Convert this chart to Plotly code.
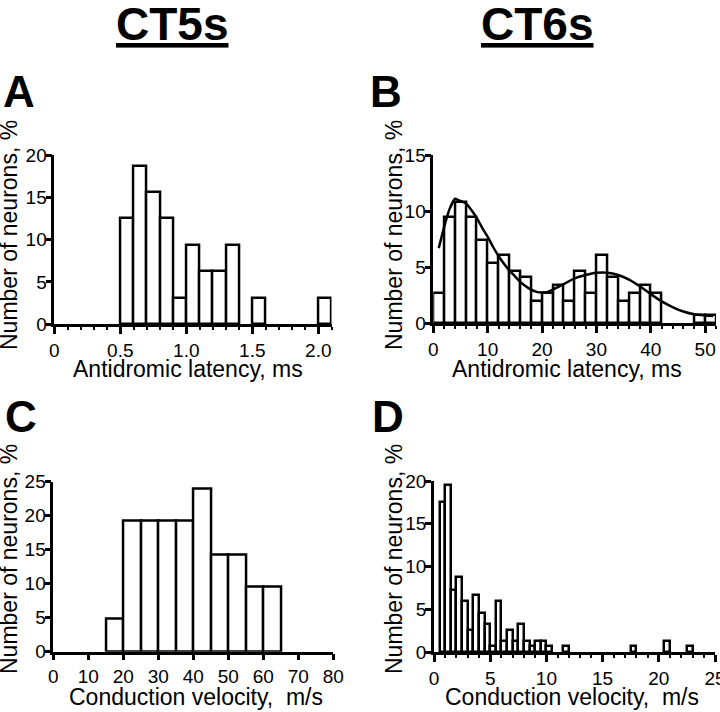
import plotly.graph_objects as go

W, H = 720, 712
FONT = 'Arial, "Liberation Sans", Helvetica, sans-serif'

# A - CT5s antidromic latency, 0.1 ms bins (% of neurons)
a_bin_start = [0.5, 0.6, 0.7, 0.8, 0.9, 1.0, 1.1, 1.2, 1.3, 1.5, 2.0]
a_pct = [12.5, 18.75, 15.6, 12.5, 3.1, 9.4, 6.25, 6.25, 9.4, 3.1, 3.1]
a_tickvals = [0, 0.5, 1.0, 1.5, 2.0]
a_ticktext = ["0", "0.5", "1.0", "1.5", "2.0"]

# B - CT6s antidromic latency, 2 ms bins, plus fitted curve
b_bin_start = [0, 2, 4, 6, 8, 10, 12, 14, 16, 18, 20, 22, 24, 26, 28, 30,
               32, 34, 36, 38, 40, 48, 50]
b_pct = [2.7, 9.5, 10.8, 9.5, 7.4, 5.4, 6.1, 4.7, 4.1, 2.0, 2.7, 3.4, 2.0,
         4.7, 2.7, 6.1, 4.1, 2.0, 2.7, 3.4, 2.7, 0.7, 0.7]
b_fit_x = [1, 2, 3, 4, 5, 6, 7, 8, 9, 10, 11, 12, 13, 14, 15, 16, 17, 18,
           19, 20, 21, 22, 24, 26, 28, 30, 32, 34, 36, 38, 40, 42, 44, 46,
           48, 50, 51.5]
b_fit_y = [6.7, 8.6, 10.2, 11.1, 10.9, 10.7, 10.1, 9.4, 8.5, 7.7, 6.8, 6.0,
           5.3, 4.7, 4.2, 3.7, 3.3, 3.0, 2.8, 2.75, 2.8, 3.0, 3.5, 4.0, 4.3,
           4.5, 4.5, 4.3, 3.9, 3.3, 2.6, 1.95, 1.45, 1.05, 0.8, 0.7, 0.65]

# C - CT5s conduction velocity, 5 m/s bins
c_bin_start = [15, 20, 25, 30, 35, 40, 45, 50, 55, 60]
c_pct = [4.8, 19.2, 19.2, 19.2, 19.2, 23.9, 14.3, 14.3, 9.6, 9.6]

# D - CT6s conduction velocity, 0.5 m/s bins
d_bin_start = [0.5, 1.0, 1.5, 2.0, 2.5, 3.0, 3.5, 4.0, 4.5, 5.0, 5.5, 6.0,
               6.5, 7.0, 7.5, 8.0, 8.5, 9.0, 9.5, 10.0, 11.5, 17.5, 20.5, 22.5]
d_pct = [17.5, 19.5, 7.3, 8.8, 6.0, 2.6, 6.7, 4.6, 3.3, 0.7, 6.0, 1.3,
         2.6, 1.3, 3.3, 1.3, 0.7, 1.3, 1.3, 0.7, 0.7, 0.7, 1.3, 0.7]


def px(x):
    return x / W


def py(y):
    return 1 - y / H


fig = go.Figure()


def add_hist(starts, pct, width, n):
    sfx = "" if n == 1 else str(n)
    fig.add_trace(go.Bar(
        x=starts, y=pct, width=width, offset=0,
        marker=dict(color="white", line=dict(color="black", width=2.5)),
        xaxis="x" + sfx, yaxis="y" + sfx,
        showlegend=False, hoverinfo="skip"
    ))


add_hist(a_bin_start, a_pct, 0.1, 1)
add_hist(b_bin_start, b_pct, 2, 2)
add_hist(c_bin_start, c_pct, 5, 3)
add_hist(d_bin_start, d_pct, 0.5, 4)

fig.add_trace(go.Scatter(
    x=b_fit_x, y=b_fit_y, mode="lines",
    line=dict(color="black", width=2.5, shape="spline", smoothing=0.4),
    xaxis="x2", yaxis="y2", showlegend=False, hoverinfo="skip"
))

base = dict(showline=True, linewidth=2.5, linecolor="black", ticks="outside",
            tickwidth=2.5, ticklen=6, tickcolor="black", showgrid=False,
            zeroline=False, automargin=False, ticklabeloverflow="allow",
            tickfont=dict(family=FONT, size=19, color="black"),
            fixedrange=True)
ybase = dict(base, dtick=5, ticklabelstandoff=-5)


def minor(dt):
    return dict(tick0=0, dtick=dt, ticks="outside", ticklen=3, tickwidth=2,
                tickcolor="black", showgrid=False)


fig.update_layout(
    width=W, height=H,
    margin=dict(l=0, r=0, t=0, b=0, autoexpand=False),
    paper_bgcolor="white", plot_bgcolor="white",
    bargap=0,
    xaxis=dict(base, domain=[px(54.3), px(331.5)], range=[0, 2.1], anchor="y",
               tickmode="array", tickvals=a_tickvals, ticktext=a_ticktext,
               ticklen=7, minor=minor(0.1)),
    yaxis=dict(ybase, domain=[py(324.3), py(155)], range=[0, 20], anchor="x"),
    xaxis2=dict(base, domain=[px(433.3), px(716)], range=[0, 52], anchor="y2",
                dtick=10, ticklen=7, minor=minor(2)),
    yaxis2=dict(ybase, domain=[py(323.3), py(155)], range=[0, 15], anchor="x2"),
    xaxis3=dict(base, domain=[px(53.3), px(333.3)], range=[0, 80], anchor="y3",
                dtick=10),
    yaxis3=dict(ybase, domain=[py(651.7), py(481.7)], range=[0, 25], anchor="x3"),
    xaxis4=dict(base, domain=[px(434), px(715)], range=[0, 25], anchor="y4",
                dtick=5, ticklen=7, minor=minor(1)),
    yaxis4=dict(ybase, domain=[py(652.3), py(481)], range=[0, 20], anchor="x4"),
)


def text(s, x, y, size, bold=False, angle=0, under=False):
    f = dict(family=FONT, size=size, color="black")
    if bold:
        f["weight"] = "bold"
    if under:
        f["lineposition"] = "under"
    fig.add_annotation(text=s, x=px(x), y=py(y), xref="paper", yref="paper",
                       xanchor="center", yanchor="middle", showarrow=False,
                       textangle=angle, font=f)


# column headings
text("CT5s", 171.5, 24, 46, bold=True, under=True)
text("CT6s", 537, 24, 46, bold=True, under=True)

# panel letters
text("A", 19, 91, 44, bold=True)
text("B", 386, 91, 44, bold=True)
text("C", 21, 416, 44, bold=True)
text("D", 388, 416, 44, bold=True)

# axis titles
ylab = "Number of neurons, %"
text(ylab, 9, 235, 23, angle=-90)
text(ylab, 394, 235, 23, angle=-90)
text(ylab, 9, 559, 23, angle=-90)
text(ylab, 394, 559, 23, angle=-90)
text("Antidromic latency, ms", 187.5, 369, 23)
text("Antidromic latency, ms", 567, 369, 23)
text("Conduction velocity,\u00a0 m/s", 196, 697, 23)
text("Conduction velocity,\u00a0 m/s", 572, 697, 23)

# significance marker over the first D bars
fig.add_annotation(text="**", x=1.0, y=20.9, xref="x4", yref="y4",
                   showarrow=False, font=dict(family=FONT, size=24,
                                              color="black"))

fig.write_html("out.html", config={"displayModeBar": False},
               post_script="document.body.style.margin='0';")
